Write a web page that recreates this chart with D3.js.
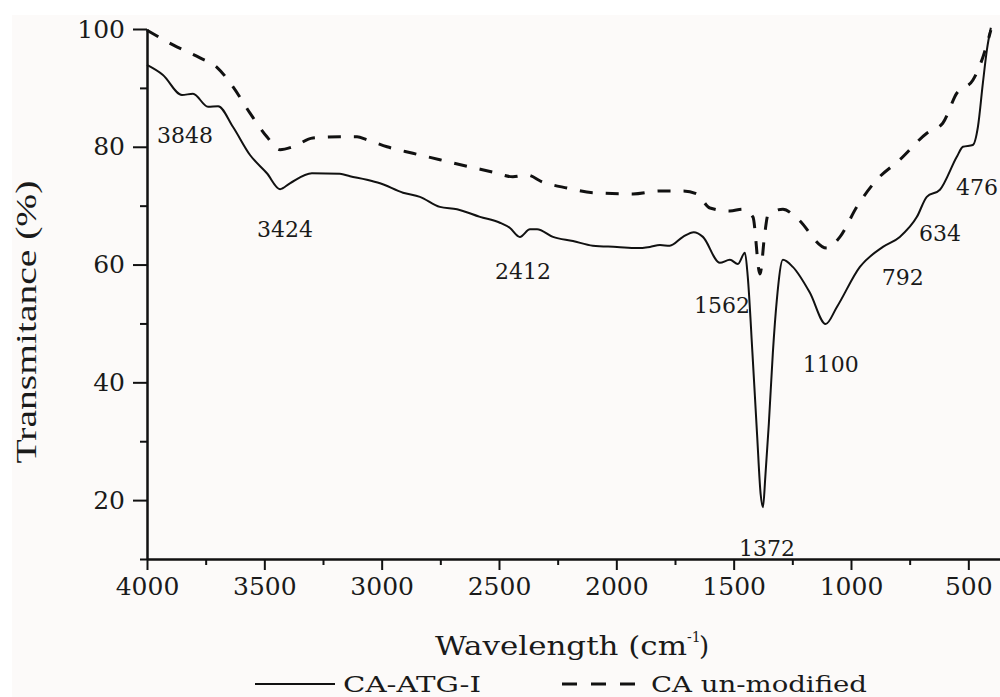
<!DOCTYPE html>
<html>
<head>
<meta charset="utf-8">
<script src="https://cdn.jsdelivr.net/npm/d3@7"></script>
<style>
  body { margin: 0; background: #fff; }
  svg { display: block; }
  .num { font-family: "DejaVu Serif", serif; fill: #1a1a1a; }
</style>
</head>
<body>
<div id="chart"></div>
<script>
// CA-ATG-I (solid line)
const solidWave = [4000, 3932, 3851, 3804, 3740, 3697, 3634, 3561, 3489, 3433, 3391, 3297, 3178, 3135, 3063, 3007,
  2909, 2837, 2752, 2679, 2581, 2496, 2453, 2411, 2368, 2338, 2270, 2185, 2100, 1997, 1912, 1857, 1814, 1772,
  1716, 1670, 1631, 1559, 1516, 1482, 1452, 1440, 1420, 1400, 1385, 1375, 1365, 1350, 1333, 1316, 1290, 1248,
  1175, 1108, 1060, 962, 864, 792, 719, 677, 621, 549, 523, 481, 459, 438, 421, 404];
const solidT = [93.9, 92.2, 88.8, 89.0, 86.8, 86.9, 83.4, 78.6, 75.5, 72.8, 73.8, 75.5, 75.4, 75.0, 74.4, 73.8,
  72.2, 71.5, 69.8, 69.4, 68.1, 67.1, 66.2, 64.7, 66.0, 66.0, 64.7, 64.0, 63.2, 63.0, 62.8, 63.0, 63.3, 63.2,
  64.7, 65.5, 64.7, 60.3, 60.8, 60.1, 62.0, 58, 45, 31, 21, 18.8, 24, 33, 45, 54, 60.8, 59.6,
  55.2, 49.9, 52.8, 59.6, 63.0, 64.7, 68.1, 71.5, 72.7, 78.3, 80.0, 80.3, 83.4, 90.8, 96.4, 100.2];

// CA un-modified (dashed line)
const dashWave = [4000, 3889, 3774, 3702, 3634, 3561, 3489, 3433, 3378, 3293, 3178, 3105, 3063, 2977, 2867, 2752,
  2637, 2526, 2441, 2381, 2313, 2210, 2100, 1929, 1814, 1716, 1657, 1601, 1516, 1461, 1418, 1388, 1367, 1354,
  1290, 1231, 1103, 1047, 975, 890, 792, 677, 609, 549, 481, 438, 404];
const dashT = [99.8, 97.3, 95.1, 93.5, 90.2, 85.7, 81.7, 79.5, 80.0, 81.5, 81.7, 81.7, 81.2, 80.0, 78.9, 77.8,
  76.7, 75.7, 74.9, 75.2, 74.0, 73.0, 72.2, 72.0, 72.5, 72.5, 72.0, 69.6, 69.1, 69.4, 68.1, 58.4, 65.4, 68.4,
  69.4, 67.9, 62.8, 64.7, 69.8, 74.4, 77.8, 82.3, 84.0, 89.1, 91.3, 95.2, 99.8];

// peak annotations: label, where its centre sits (wavenumber) and its baseline (transmittance)
const peakNames = ["3848", "3424", "2412", "1562", "1372", "1100", "792", "634", "476"];
const peakLabelWave = [3838, 3412, 2398, 1550, 1358, 1086, 779, 621, 463];
const peakLabelT = [80.6, 64.7, 57.5, 51.8, 10.5, 41.8, 56.5, 64.0, 71.8];

const xMajor = [4000, 3500, 3000, 2500, 2000, 1500, 1000, 500];
const xMinor = [3750, 3250, 2750, 2250, 1750, 1250, 750];
const yMajor = [20, 40, 60, 80, 100];
const yMinor = [10, 30, 50, 70, 90];

const width = 1000, height = 697;

const svg = d3.select('#chart').append('svg')
  .attr('width', width)
  .attr('height', height);

svg.append('rect')
  .attr('x', 12).attr('y', 15)
  .attr('width', width - 12).attr('height', height - 15)
  .attr('fill', '#fcfaf9');

const x = d3.scaleLinear().domain([4000, 365]).range([147, 1000]);
const y = d3.scaleLinear().domain([10, 100]).range([559, 29]);

// axes
function styleAxis(g) {
  g.selectAll('path, line').attr('stroke', '#111').attr('stroke-width', 2);
  g.selectAll('text').attr('class', 'num').attr('font-size', 25).attr('fill', '#1a1a1a');
}

svg.append('g')
  .attr('transform', `translate(0,${y(10)})`)
  .call(d3.axisBottom(x).tickValues(xMinor).tickSize(6).tickSizeOuter(0).tickFormat(''))
  .call(styleAxis);
svg.append('g')
  .attr('transform', `translate(0,${y(10)})`)
  .call(d3.axisBottom(x).tickValues(xMajor).tickSize(11).tickSizeOuter(0).tickPadding(7).tickFormat(d3.format('d')))
  .call(styleAxis)
  .call(g => g.selectAll('text').attr('dy', '0.71em'));

svg.append('g')
  .attr('transform', `translate(${x(4000)},0)`)
  .call(d3.axisLeft(y).tickValues(yMinor).tickSize(7).tickSizeOuter(0).tickFormat(''))
  .call(styleAxis);
svg.append('g')
  .attr('transform', `translate(${x(4000)},0)`)
  .call(d3.axisLeft(y).tickValues(yMajor).tickSize(14).tickSizeOuter(0).tickPadding(8).tickFormat(d3.format('d')))
  .call(styleAxis);

// curves
const solidData = solidWave.map((w, i) => ({ w, t: solidT[i] }));
const dashData = dashWave.map((w, i) => ({ w, t: dashT[i] }));

const line = d3.line()
  .x(d => x(d.w))
  .y(d => y(d.t))
  .curve(d3.curveMonotoneX);

svg.append('path')
  .datum(dashData)
  .attr('d', line)
  .attr('fill', 'none')
  .attr('stroke', '#111')
  .attr('stroke-width', 3)
  .attr('stroke-dasharray', '13,13');

svg.append('path')
  .datum(solidData)
  .attr('d', line)
  .attr('fill', 'none')
  .attr('stroke', '#111')
  .attr('stroke-width', 2);

// peak labels
peakNames.forEach((name, i) => {
  svg.append('text')
    .attr('class', 'num')
    .attr('x', x(peakLabelWave[i]))
    .attr('y', y(peakLabelT[i]))
    .attr('text-anchor', 'middle')
    .attr('font-size', 22)
    .text(name);
});

// axis titles
svg.append('text')
  .attr('transform', 'translate(36,322) rotate(-90)')
  .attr('text-anchor', 'middle')
  .attr('font-family', '"Liberation Serif", serif')
  .attr('font-size', 29)
  .attr('fill', '#1a1a1a')
  .attr('textLength', 283)
  .attr('lengthAdjust', 'spacingAndGlyphs')
  .text('Transmitance (%)');

svg.append('text')
  .attr('class', 'num')
  .attr('x', 435).attr('y', 655)
  .attr('font-size', 26)
  .attr('textLength', 252)
  .attr('lengthAdjust', 'spacingAndGlyphs')
  .text('Wavelength (cm');
svg.append('text')
  .attr('class', 'num')
  .attr('x', 687).attr('y', 642)
  .attr('font-size', 14)
  .text('-1');
svg.append('text')
  .attr('class', 'num')
  .attr('x', 699).attr('y', 655)
  .attr('font-size', 26)
  .text(')');

// legend
const legendItems = ['CA-ATG-I', 'CA un-modified'];
const legendDash = [null, '15,14'];
const legendX = [255, 562];
const legendTextX = [343, 651];
const legendTextW = [138, 216];

legendItems.forEach((name, i) => {
  svg.append('line')
    .attr('x1', legendX[i]).attr('x2', legendX[i] + (i === 0 ? 80 : 73))
    .attr('y1', 684).attr('y2', 684)
    .attr('stroke', '#111')
    .attr('stroke-width', i === 0 ? 2 : 3)
    .attr('stroke-dasharray', legendDash[i]);
  svg.append('text')
    .attr('class', 'num')
    .attr('x', legendTextX[i]).attr('y', 692)
    .attr('font-size', 23)
    .attr('textLength', legendTextW[i])
    .attr('lengthAdjust', 'spacingAndGlyphs')
    .text(name);
});
</script>
</body>
</html>
